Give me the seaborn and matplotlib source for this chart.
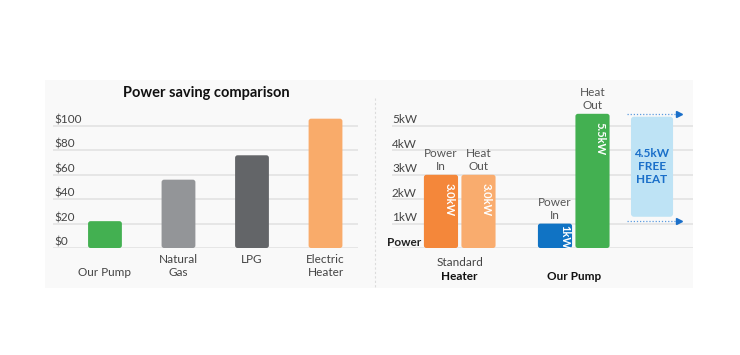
import matplotlib.pyplot as plt
import matplotlib.transforms as mtransforms
from matplotlib.lines import Line2D
from matplotlib.patches import FancyBboxPatch, Rectangle
import pandas as pd
import seaborn as sns

# left chart: running cost
cost_labels = ["\nOur Pump", "Natural\nGas", "LPG", "Electric\nHeater"]
cost_values = [22, 56, 76, 106]
cost_colors = ["#43b051", "#939598", "#636568", "#f9ab6a"]
cost_ticks = [0, 20, 40, 60, 80, 100]

# right chart: power in / heat out
groups = ["Standard", "Our Pump"]
group_line1 = ["Standard", ""]
group_line2 = ["Heater", "Our Pump"]
stages = ["Power In", "Heat Out"]
power_in = [3.0, 1.0]
heat_out = [3.0, 5.5]
value_labels = {("Standard", "Power In"): "3.0kW", ("Standard", "Heat Out"): "3.0kW",
                ("Our Pump", "Power In"): "1kW", ("Our Pump", "Heat Out"): "5.5kW"}
bar_colors = {("Standard", "Power In"): "#f4873a", ("Standard", "Heat Out"): "#f9ac6e",
              ("Our Pump", "Power In"): "#1073c4", ("Our Pump", "Heat Out"): "#43b051"}
kw_ticks = [1, 2, 3, 4, 5]
free_heat = heat_out[1] - power_in[1]

W, H = 740, 355
BLUE = "#1a6fc9"

sns.set_theme(style="white")
plt.rcParams['font.family'] = ['Lato', 'DejaVu Sans']

fig = plt.figure(figsize=(W / 100, H / 100), dpi=100)
fig.patch.set_facecolor("white")

# light panel behind both charts
fig.patches.append(Rectangle((45 / W, 1 - 288 / H), (693 - 45) / W, (288 - 80) / H,
                             transform=fig.transFigure, facecolor="#f9f9f9",
                             edgecolor="none", zorder=-5))
fig.add_artist(Line2D([375 / W, 375 / W], [1 - 98 / H, 1 - 288 / H], transform=fig.transFigure,
                      color="#dcdcdc", lw=0.8, ls=(0, (2, 2)), zorder=-4))


def px_axes(x0, x1, y0, y1):
    # y0 = pixel row of the zero line, y1 = top
    return fig.add_axes([x0 / W, 1 - y0 / H, (x1 - x0) / W, (y0 - y1) / H])


def round_bars(ax, px_x, px_y, radius=2.5):
    for p in list(ax.patches):
        if not isinstance(p, Rectangle) or p.get_height() <= 0:
            continue
        x, y = p.get_x(), p.get_y()
        w, h = p.get_width(), p.get_height()
        fb = FancyBboxPatch((x, y), w, h,
                            boxstyle=f"round,pad=0,rounding_size={radius / px_x}",
                            mutation_aspect=px_x / px_y,
                            facecolor=p.get_facecolor(), edgecolor="none", zorder=3)
        p.set_visible(False)
        ax.add_patch(fb)


def style_grid(ax, ticks):
    ax.set_yticks([0] + ticks)
    ax.tick_params(left=False, bottom=False, labelleft=False, length=0)
    ax.grid(axis="y", color="#e4e4e4", lw=1.3)
    ax.grid(axis="x", visible=False)
    ax.set_axisbelow(True)
    ax.set_facecolor("none")
    sns.despine(ax=ax, left=True, bottom=True)
    ax.set_xlabel("")
    ax.set_ylabel("")


# ---- left: power saving comparison
ax1 = px_axes(53, 358, 248, 89.4)
sns.barplot(x=list(range(len(cost_values))), y=cost_values, hue=list(range(len(cost_values))),
            palette=cost_colors, legend=False, width=0.46, saturation=1, ax=ax1)
ax1.set_xlim(-0.707, 3.442)
ax1.set_ylim(0, 130)
style_grid(ax1, cost_ticks)
ax1.set_yticks(cost_ticks)
ax1.set_xticks(range(len(cost_labels)))
ax1.set_xticklabels(cost_labels, fontsize=8.5, color="#444444", linespacing=1.25)
ax1.tick_params(axis="x", pad=4)
up = mtransforms.offset_copy(ax1.get_yaxis_transform(), fig=fig, y=2.5, units="dots")
for t in cost_ticks:
    ax1.text(0.004, t, f"${t}", transform=up, ha="left", va="baseline",
             fontsize=8.5, color="#444444")
round_bars(ax1, 73.5, 1.22)
fig.text(206 / W, 1 - 93 / H, "Power saving comparison", ha="center", va="center",
         fontsize=10.5, fontweight="bold", color="#111111")

# ---- right: power in vs heat out
df = pd.DataFrame({
    "group": [g for g in groups for _ in stages],
    "stage": stages * len(groups),
    "kw": [v for pair in zip(power_in, heat_out) for v in pair],
})
ax2 = px_axes(392, 693, 248, 89.4)
sns.barplot(data=df, x="group", y="kw", hue="stage", order=groups, hue_order=stages,
            width=0.658, gap=0.09, saturation=1, legend=False, ax=ax2)
ax2.set_xlim(-0.594, 2.046)
ax2.set_ylim(0, 6.5)
style_grid(ax2, kw_ticks)
ax2.set_xticks([])

for si, cont in enumerate(ax2.containers):
    for gi, bar in enumerate(cont):
        key = (groups[gi], stages[si])
        bar.set_facecolor(bar_colors[key])
        cx = bar.get_x() + bar.get_width() / 2
        top = bar.get_height()
        # caption above the bar
        ax2.annotate(stages[si].replace(" ", "\n"), (cx, top), xytext=(0, 2),
                     textcoords="offset points", ha="center", va="bottom",
                     fontsize=8.5, color="#555555", linespacing=1.2)
        # value inside, rotated
        if top > 2:
            ax2.annotate(value_labels[key], (cx, top), xytext=(5.5, -6),
                         textcoords="offset points", ha="center", va="top", rotation=-90,
                         fontsize=8, fontweight="bold", color="white", zorder=5)
        else:
            ax2.annotate(value_labels[key], (cx, top / 2), xytext=(7, -1),
                         textcoords="offset points", ha="center", va="center", rotation=-90,
                         fontsize=8, fontweight="bold", color="white", zorder=5)

up2 = mtransforms.offset_copy(ax2.get_yaxis_transform(), fig=fig, y=2.5, units="dots")
for t in kw_ticks:
    ax2.text(0.0, t, f"{t}kW", transform=up2, ha="left", va="baseline",
             fontsize=8.5, color="#444444")
ax2.text(-0.015, 0, "Power", transform=up2, ha="left", va="baseline",
         fontsize=8.5, fontweight="bold", color="#222222")

round_bars(ax2, 114, 24.4)

# group labels under the bars
below = mtransforms.offset_copy(ax2.transData, fig=fig, y=-14, units="dots")
below2 = mtransforms.offset_copy(ax2.transData, fig=fig, y=-28, units="dots")
for gi, g in enumerate(groups):
    ax2.text(gi, 0, group_line1[gi], transform=below, ha="center", va="center",
             fontsize=8.5, color="#444444", clip_on=False)
    ax2.text(gi, 0, group_line2[gi], transform=below2, ha="center", va="center",
             fontsize=8.5, fontweight="bold", color="#111111", clip_on=False)

# free heat box with dotted arrows
bx0, bx1 = 1.502, 1.871
box_lo, box_hi = power_in[1] + 0.28, heat_out[1] - 0.12
ax2.add_patch(FancyBboxPatch((bx0, box_lo), bx1 - bx0, box_hi - box_lo,
                             boxstyle=f"round,pad=0,rounding_size={3 / 114}",
                             mutation_aspect=114 / 24.4, facecolor="#bee3f5",
                             edgecolor="none", zorder=3))
ax2.text((bx0 + bx1) / 2, (box_lo + box_hi) / 2, f"{free_heat:.1f}kW\nFREE\nHEAT",
         ha="center", va="center", fontsize=8.5, fontweight="bold", color=BLUE,
         linespacing=1.25, zorder=4)
for yv in [heat_out[1], power_in[1] + 0.1]:
    ax2.plot([1.469, 1.925], [yv, yv], ls=(0, (1, 1.5)), lw=0.9, color="#5b9be0", zorder=4)
    ax2.plot([1.925], [yv], marker=">", ms=4, color=BLUE, zorder=4, clip_on=False)

fig.savefig("out.png", dpi=100)
